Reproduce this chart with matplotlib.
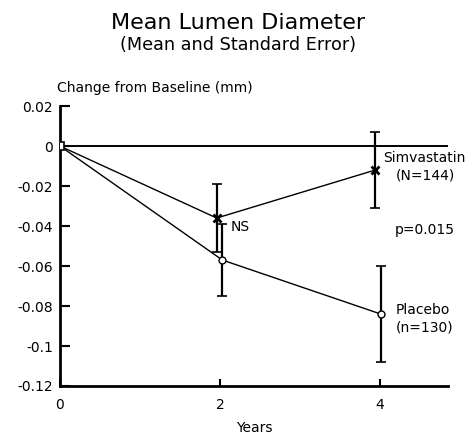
import numpy as np
import matplotlib
matplotlib.use('Agg')
import matplotlib.pyplot as plt
from matplotlib.ticker import FuncFormatter

plt.rcParams['font.family'] = ['DejaVu Sans']

### data
years = np.array([0, 2, 4])
simva_mean = np.array([0.0, -0.036, -0.012])
simva_se = np.array([0.0, 0.017, 0.019])
placebo_mean = np.array([0.0, -0.057, -0.084])
placebo_se = np.array([0.0, 0.018, 0.024])
simva_dx = np.array([0.0, -0.04, -0.06])
placebo_dx = np.array([0.0, 0.03, 0.01])

yticks = [0.02, 0.0, -0.02, -0.04, -0.06, -0.08, -0.1, -0.12]
xticks = [0, 2, 4]

fig = plt.figure(figsize=(4.76, 4.36), dpi=100)
ax = fig.add_axes([0.126, 0.1147, 0.815, 0.642])

ax.axhline(0, color='black', lw=1.4, zorder=1)

# placebo
ax.errorbar(years[1:] + placebo_dx[1:], placebo_mean[1:], yerr=placebo_se[1:],
            fmt='none', ecolor='black', elinewidth=1.6, capsize=3.5, capthick=1.2)
ax.plot(years + placebo_dx, placebo_mean, '-', color='black', lw=1.0)
ax.plot(years[1:] + placebo_dx[1:], placebo_mean[1:], 'o', ms=5,
        mfc='white', mec='black', mew=1.0, zorder=5)

# simvastatin
ax.errorbar(years[1:] + simva_dx[1:], simva_mean[1:], yerr=simva_se[1:],
            fmt='none', ecolor='black', elinewidth=1.6, capsize=3.5, capthick=1.2)
ax.plot(years + simva_dx, simva_mean, '-', color='black', lw=1.0)
ax.plot(years[1:] + simva_dx[1:], simva_mean[1:], 'x', ms=6,
        mec='black', mew=2.0, zorder=5)

# baseline marker
ax.plot(years[0], 0, 's', ms=6, mfc='white', mec='black', mew=1.2, zorder=6)

ax.set_xlim(0, 4.85)
ax.set_ylim(-0.12, 0.02)
ax.set_xticks(xticks)
ax.set_yticks(yticks)
ax.yaxis.set_major_formatter(FuncFormatter(lambda v, p: '0' if abs(v) < 1e-9 else ('%g' % v)))
ax.tick_params(direction='in', length=7, width=1.5, labelsize=10, colors='black')
ax.tick_params(axis='x', length=5, pad=9)
ax.tick_params(axis='y', pad=5)

for s in ['top', 'right']:
    ax.spines[s].set_visible(False)
for s in ['left', 'bottom']:
    ax.spines[s].set_linewidth(2.0)

ax.text(4.04, -0.006, 'Simvastatin', fontsize=10, va='center', ha='left')
ax.text(4.2, -0.0145, '(N=144)', fontsize=10, va='center', ha='left')
ax.text(4.19, -0.042, 'p=0.015', fontsize=10, va='center', ha='left')
ax.text(4.2, -0.082, 'Placebo', fontsize=10, va='center', ha='left')
ax.text(4.2, -0.0905, '(n=130)', fontsize=10, va='center', ha='left')
ax.text(2.13, -0.0405, 'NS', fontsize=10, va='center', ha='left')

ax.set_xlabel('Years', fontsize=10, labelpad=6)
fig.text(0.12, 0.798, 'Change from Baseline (mm)', fontsize=10, ha='left', va='center')

fig.text(0.5, 0.947, 'Mean Lumen Diameter', fontsize=16, ha='center', va='center')
fig.text(0.5, 0.897, '(Mean and Standard Error)', fontsize=12.7, ha='center', va='center')

plt.savefig('out.png')
plt.close()
